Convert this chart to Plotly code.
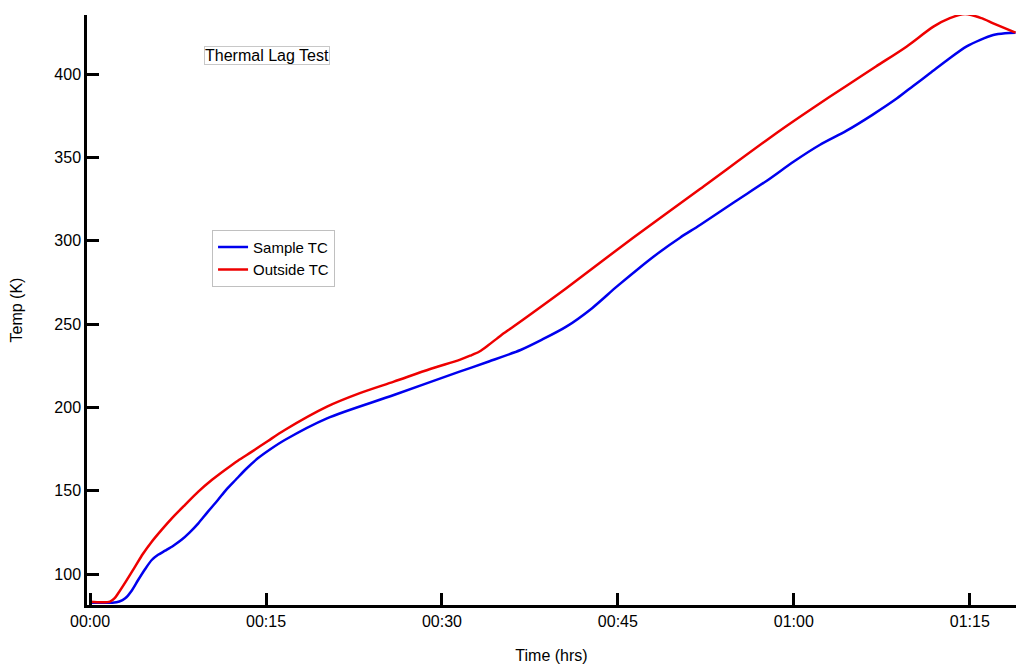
import plotly.graph_objects as go

# Time in minutes since start
sample_t = [0, 1.9, 2.5, 3.0, 3.5, 4.1, 4.7, 5.26, 5.8, 6.4, 7.1, 7.8, 8.5, 9.23, 10.0, 10.9, 11.6, 12.4,
            13.3, 14.3, 15.4, 16.6, 20.2, 25.9, 31.5, 34.0, 36.7, 38.5, 40.6, 42.8, 44.9, 46.8, 48.6,
            50.3, 52.0, 55.0, 57.7, 60.0, 62.2, 64.5, 66.7, 68.8, 70.2, 71.6, 73.2, 74.7, 75.9, 77.0,
            78.0, 78.9]
sample_temp = [82.8, 82.8, 83.5, 85.4, 89.5, 96.4, 103.0, 108.4, 111.5, 114.0, 117.0, 120.5, 125.0, 130.4,
               137.0, 144.4, 150.5, 156.4, 163.0, 169.4, 175.0, 180.4, 193.4, 207.4, 221.4, 227.5, 234.4,
               240.5, 248.4, 259.5, 272.4, 283.5, 293.4, 301.8, 309.4, 323.5, 336.0, 347.5, 357.4, 366.0,
               375.5, 385.4, 393.0, 400.4, 409.0, 416.4, 420.5, 423.4, 424.5, 424.8]

outside_t = [0, 1.0, 1.7, 2.1, 2.4, 3.1, 3.84, 4.5, 5.26, 6.1, 6.97, 8.1, 9.23, 10.4, 11.5, 12.6, 13.8,
             15.2, 16.6, 20.2, 23.0, 25.9, 29.0, 31.5, 32.4, 33.2, 34.0, 35.0, 36.1, 40.6, 46.3, 52.0,
             58.8, 61.6, 64.5, 67.0, 69.6, 71.9, 73.3, 74.6, 76.0, 77.0, 78.9]
outside_temp = [83.4, 83.0, 83.4, 85.5, 88.4, 96.0, 104.4, 112.0, 119.4, 126.5, 133.4, 141.5, 149.4, 156.5,
                162.4, 168.0, 173.4, 180.0, 186.4, 200.4, 208.5, 215.4, 223.0, 228.5, 231.0, 233.5, 237.5,
                243.0, 248.5, 271.5, 301.8, 331.0, 366.0, 379.5, 393.0, 404.5, 416.4, 428.4, 433.5, 436.0,
                433.5, 430.4, 424.8]

x_tick_vals = [0, 15, 30, 45, 60, 75]
x_tick_text = ["00:00", "00:15", "00:30", "00:45", "01:00", "01:15"]
y_tick_vals = [100, 150, 200, 250, 300, 350, 400]

fig = go.Figure()
fig.add_trace(go.Scatter(x=sample_t, y=sample_temp, mode="lines", name="Sample TC",
                         line=dict(color="#0000ee", width=2.5, shape="spline", smoothing=0.8)))
fig.add_trace(go.Scatter(x=outside_t, y=outside_temp, mode="lines", name="Outside TC",
                         line=dict(color="#ee0000", width=2.5, shape="spline", smoothing=0.8)))

font = dict(family="Liberation Sans, Arial, sans-serif", size=16, color="black")
legend_font = dict(family="Liberation Sans, Arial, sans-serif", size=15, color="black")

fig.update_layout(
    width=1016, height=664,
    margin=dict(l=87, r=0, t=15, b=59),
    paper_bgcolor="white", plot_bgcolor="white",
    font=font,
    showlegend=True,
    legend=dict(x=0.1346, y=0.636, xanchor="left", yanchor="top",
                bordercolor="#c0c0c0", borderwidth=1, bgcolor="white",
                font=legend_font, tracegroupgap=0, itemwidth=30),
    annotations=[dict(text="Thermal Lag Test", x=0.1938, y=0.931, xref="paper", yref="paper",
                      xanchor="center", yanchor="middle", showarrow=False,
                      bordercolor="#c8c8c8", borderwidth=1, borderpad=0, bgcolor="white", font=font)],
)
fig.update_xaxes(range=[-0.26, 78.94], tickvals=x_tick_vals, ticktext=x_tick_text,
                 showgrid=False, zeroline=False, showline=True, linecolor="black", linewidth=2.5,
                 ticks="inside", ticklen=12, tickwidth=3, tickcolor="black",
                 title=dict(text="Time (hrs)", font=font, standoff=22))
fig.update_yaxes(range=[81.4, 435.4], tickvals=y_tick_vals,
                 showgrid=False, zeroline=False, showline=True, linecolor="black", linewidth=2.5,
                 ticks="inside", ticklen=12, tickwidth=3, tickcolor="black",
                 title=dict(text="Temp (K)", font=font, standoff=28))

fig.write_html("out.html")
